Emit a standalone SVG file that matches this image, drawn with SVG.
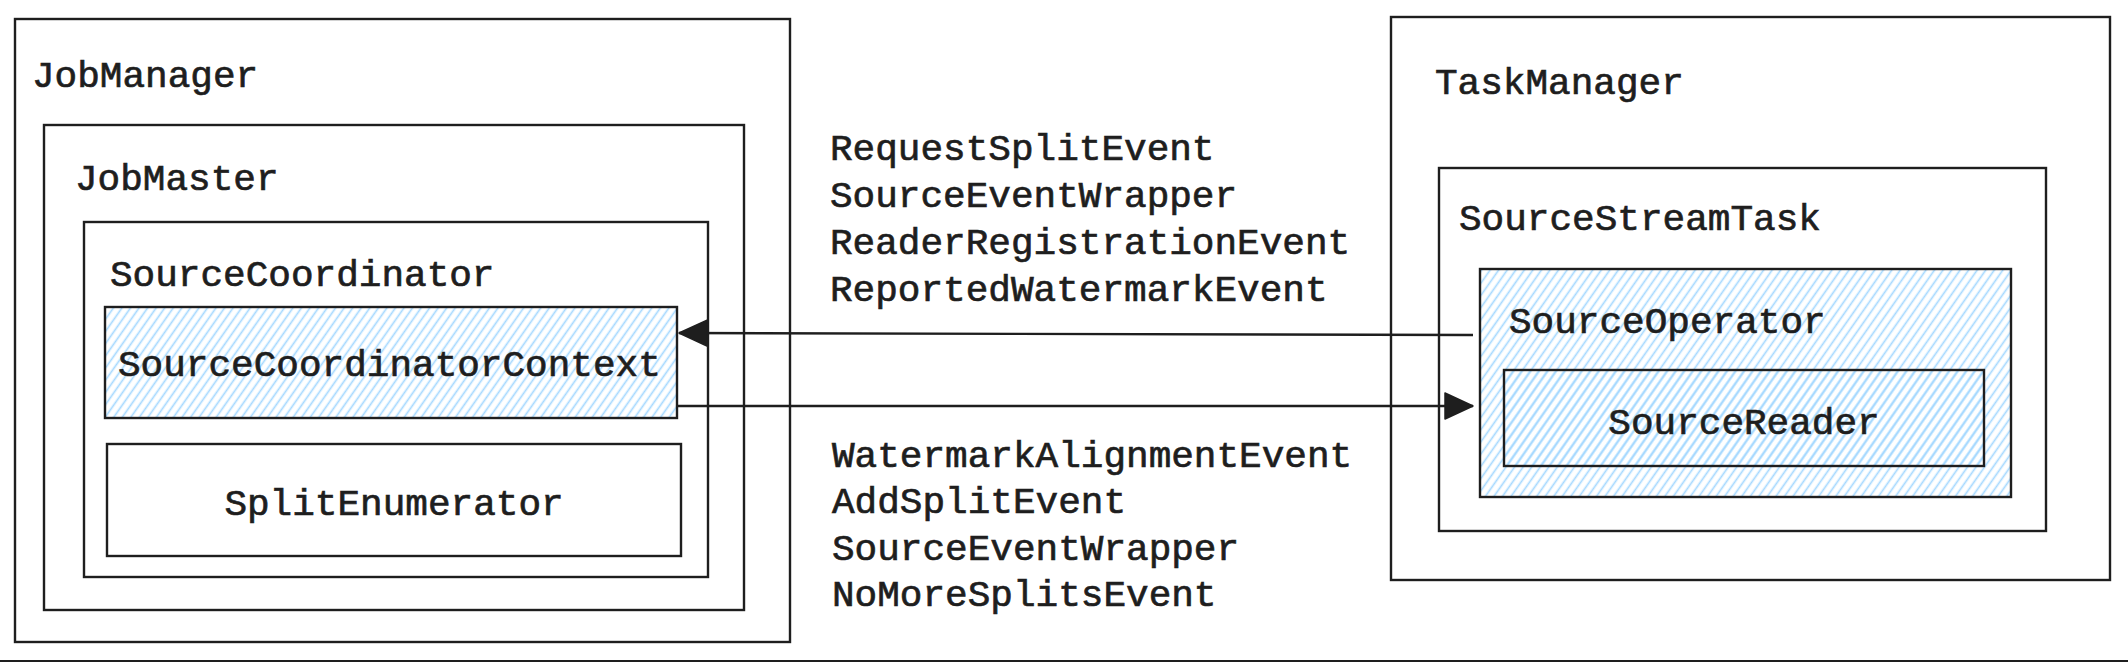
<svg xmlns="http://www.w3.org/2000/svg" width="2128" height="662" viewBox="0 0 2128 662">
  <defs>
    <pattern id="hatch" width="7" height="7" patternUnits="userSpaceOnUse" patternTransform="rotate(35)">
      <line x1="3.5" y1="-1" x2="3.5" y2="8" stroke="#a5d8ff" stroke-width="1.7"/>
    </pattern>
    <marker id="arrow" markerUnits="userSpaceOnUse" markerWidth="32" markerHeight="30" refX="29" refY="14" orient="auto">
      <path d="M1,1 L29,14 L1,27 Z" fill="#1e1e1e" stroke="#1e1e1e" stroke-width="1.5" stroke-linejoin="round"/>
    </marker>
    <style>
      .box { fill: none; stroke: #1e1e1e; stroke-width: 2.4; }
      .hatched { fill: url(#hatch); stroke: #1e1e1e; stroke-width: 2.4; }
      .t { font-family: "Liberation Mono", "DejaVu Sans Mono", monospace; font-size: 37.7px; fill: #1e1e1e; stroke: #1e1e1e; stroke-width: 0.7px; }
      .mid { text-anchor: middle; }
      .conn { fill: none; stroke: #1e1e1e; stroke-width: 2.4; }
    </style>
  </defs>
  <rect width="2128" height="662" fill="#ffffff"/>

  <g id="JobManager">
    <rect class="box" x="15" y="19" width="775" height="623"/>
    <text class="t" x="32" y="87">JobManager</text>
  </g>
  <g id="JobMaster">
    <rect class="box" x="44" y="125" width="700" height="485"/>
    <text class="t" x="75" y="190">JobMaster</text>
  </g>
  <g id="SourceCoordinator">
    <rect class="box" x="84" y="222" width="624" height="355"/>
    <text class="t" x="110" y="286">SourceCoordinator</text>
  </g>
  <g id="SourceCoordinatorContext">
    <rect class="hatched" x="105" y="307" width="572" height="111"/>
    <text class="t" x="118" y="376">SourceCoordinatorContext</text>
  </g>
  <g id="SplitEnumerator">
    <rect class="box" x="107" y="444" width="574" height="112"/>
    <text class="t mid" x="394" y="515">SplitEnumerator</text>
  </g>

  <g id="TaskManager">
    <rect class="box" x="1391" y="17" width="719" height="563"/>
    <text class="t" x="1435" y="94">TaskManager</text>
  </g>
  <g id="SourceStreamTask">
    <rect class="box" x="1439" y="168" width="607" height="363"/>
    <text class="t" x="1459" y="230">SourceStreamTask</text>
  </g>
  <g id="SourceOperator">
    <rect class="hatched" x="1480" y="269" width="531" height="228"/>
    <text class="t" x="1509" y="333">SourceOperator</text>
  </g>
  <g id="SourceReader">
    <rect class="hatched" x="1504" y="370" width="480" height="96"/>
    <text class="t mid" x="1744" y="434">SourceReader</text>
  </g>

  <g id="labels">
    <text class="t" x="830" y="160">RequestSplitEvent</text>
    <text class="t" x="830" y="207">SourceEventWrapper</text>
    <text class="t" x="830" y="254">ReaderRegistrationEvent</text>
    <text class="t" x="830" y="301">ReportedWatermarkEvent</text>
    <text class="t" x="832" y="467">WatermarkAlignmentEvent</text>
    <text class="t" x="832" y="513">AddSplitEvent</text>
    <text class="t" x="832" y="560">SourceEventWrapper</text>
    <text class="t" x="832" y="606">NoMoreSplitsEvent</text>
  </g>

  <g id="connectors">
    <path class="conn" d="M1473,335 L679,333" marker-end="url(#arrow)"/>
    <path class="conn" d="M677,406 L1473,406" marker-end="url(#arrow)"/>
  </g>

  <line x1="0" y1="661" x2="2128" y2="661" stroke="#1e1e1e" stroke-width="2"/>
</svg>
